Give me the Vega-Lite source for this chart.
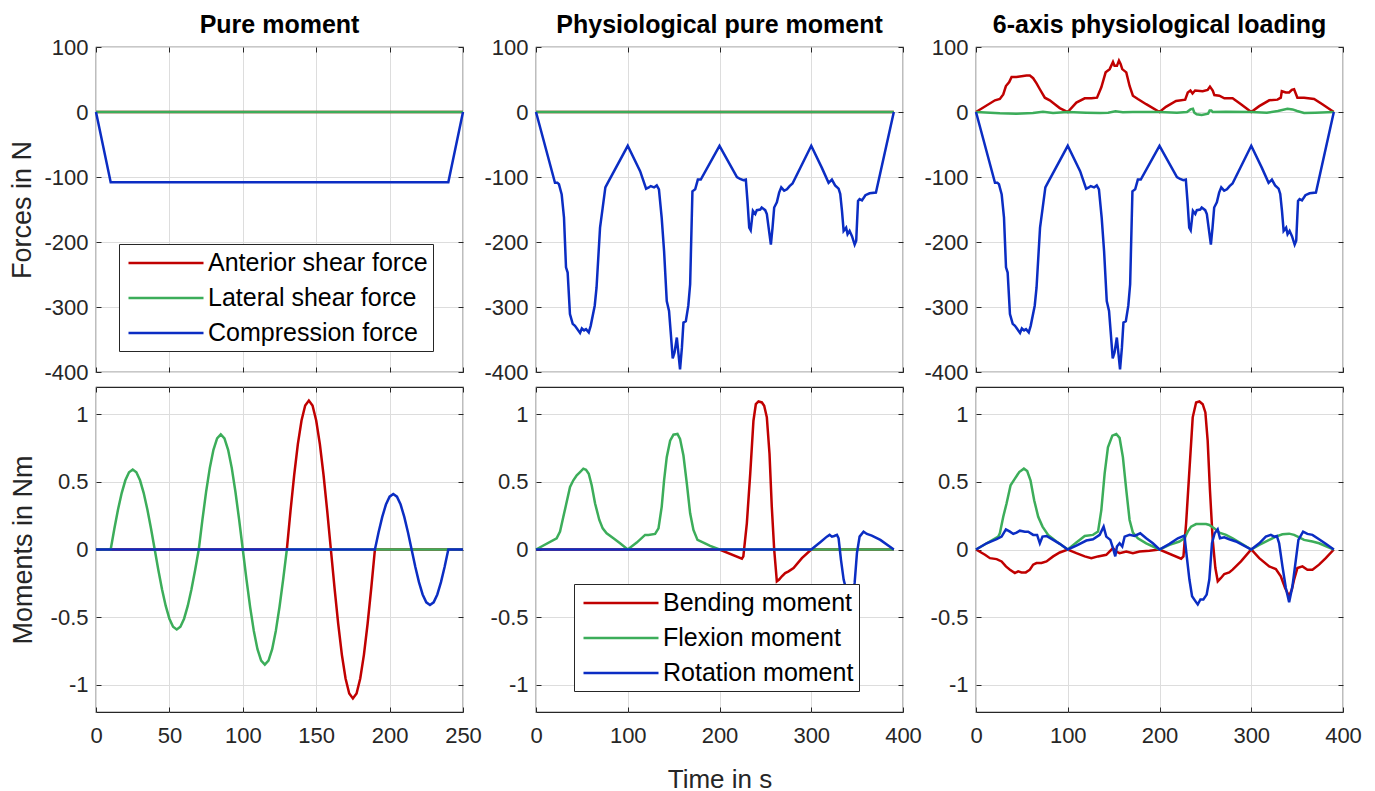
{
  "$schema": "https://vega.github.io/schema/vega-lite/v6.json",
  "background": "white",
  "padding": {"left": 8, "top": 12, "right": 5, "bottom": 0},
  "bounds": "flush",
  "columns": 3,
  "spacing": {"row": 15, "column": 73},
  "resolve": {"scale": {"color": "independent"}, "legend": {"color": "independent"}},
  "config": {
    "font": "Liberation Sans",
    "view": {"stroke": "#262626", "strokeWidth": 1.2},
    "axis": {"domain": false, "ticks": true, "tickSize": -5, "tickColor": "#262626", "gridColor": "#DDDDDD", "gridWidth": 1, "labelFont": "Liberation Sans", "labelFontSize": 22, "labelColor": "#262626", "labelFlush": false, "titleFont": "Liberation Sans", "titleFontSize": 27, "titleFontWeight": "normal", "titleColor": "#262626", "labelPadding": 13},
    "axisX": {"labelPadding": 18, "titlePadding": 20, "titleFontSize": 26},
    "title": {"fontSize": 25, "fontWeight": "bold", "font": "Liberation Sans", "color": "black", "offset": -2, "frame": "group"}
  },
  "datasets": {
    "z250": [{"t":0,"v":0},{"t":250,"v":0}],
    "z390": [{"t":0,"v":0},{"t":390,"v":0}],
    "pm_comp": [{"t":0,"v":0},{"t":10,"v":-108},{"t":240,"v":-108},{"t":250,"v":0}],
    "comp": [{"t":0,"v":0},{"t":20.7,"v":-109},{"t":23.3,"v":-109},{"t":25,"v":-111},{"t":28,"v":-127},{"t":30.5,"v":-162},{"t":32.7,"v":-239},{"t":34.5,"v":-247},{"t":37,"v":-311},{"t":40,"v":-326},{"t":42.5,"v":-329},{"t":48,"v":-340},{"t":50,"v":-333},{"t":52.4,"v":-336},{"t":54.5,"v":-334},{"t":57.5,"v":-339},{"t":59.6,"v":-329},{"t":64,"v":-298},{"t":66,"v":-270},{"t":69.8,"v":-178},{"t":72.7,"v":-147},{"t":75.6,"v":-116},{"t":78.2,"v":-109},{"t":100,"v":-52},{"t":113.5,"v":-91},{"t":120,"v":-118},{"t":123,"v":-116},{"t":125,"v":-114},{"t":128.7,"v":-116},{"t":131.6,"v":-113},{"t":134,"v":-119},{"t":137,"v":-163},{"t":139.6,"v":-214},{"t":142.5,"v":-291},{"t":145,"v":-306},{"t":147,"v":-342},{"t":149,"v":-379},{"t":151,"v":-370},{"t":153.5,"v":-347},{"t":157,"v":-396},{"t":159,"v":-363},{"t":160.7,"v":-324},{"t":163.3,"v":-322},{"t":166,"v":-298},{"t":168,"v":-265},{"t":170.5,"v":-122},{"t":173.5,"v":-119},{"t":176.4,"v":-104},{"t":179.6,"v":-104},{"t":200,"v":-52},{"t":219,"v":-100},{"t":222.5,"v":-103},{"t":226,"v":-105},{"t":228.7,"v":-104},{"t":230.5,"v":-137},{"t":232.4,"v":-178},{"t":234,"v":-182},{"t":236.4,"v":-152},{"t":239,"v":-157},{"t":240.7,"v":-151},{"t":244.4,"v":-150},{"t":246,"v":-147},{"t":249.8,"v":-151},{"t":251.6,"v":-157},{"t":254,"v":-183},{"t":256,"v":-204},{"t":257.8,"v":-178},{"t":259.6,"v":-147},{"t":262.5,"v":-139},{"t":265,"v":-124},{"t":267.3,"v":-116},{"t":270.5,"v":-121},{"t":273.5,"v":-119},{"t":276.4,"v":-114},{"t":279.6,"v":-110},{"t":300,"v":-52},{"t":311.6,"v":-86},{"t":318.9,"v":-109},{"t":322.5,"v":-104},{"t":326,"v":-113},{"t":329.8,"v":-118},{"t":331.6,"v":-126},{"t":333.5,"v":-152},{"t":335.3,"v":-183},{"t":338,"v":-178},{"t":339.6,"v":-188},{"t":341.8,"v":-183},{"t":344.4,"v":-191},{"t":347.3,"v":-204},{"t":349,"v":-198},{"t":351,"v":-137},{"t":352.7,"v":-134},{"t":355.3,"v":-136},{"t":359,"v":-128},{"t":363.6,"v":-125},{"t":370.5,"v":-124},{"t":390,"v":0}],
    "six_ant": [{"t":0,"v":0},{"t":20.7,"v":18},{"t":26,"v":20},{"t":29.7,"v":27},{"t":32.6,"v":40},{"t":36.2,"v":46},{"t":38.8,"v":54},{"t":44,"v":54},{"t":49.6,"v":55},{"t":55,"v":56},{"t":58.7,"v":56},{"t":62.3,"v":52},{"t":66,"v":44},{"t":69.6,"v":35},{"t":75,"v":22},{"t":80.4,"v":18},{"t":85.9,"v":12},{"t":91.3,"v":6},{"t":100,"v":0},{"t":109.4,"v":14.5},{"t":118.5,"v":21},{"t":125.7,"v":21},{"t":131.9,"v":22},{"t":136.6,"v":38},{"t":141.3,"v":61},{"t":145.7,"v":66},{"t":149.3,"v":77},{"t":151,"v":71},{"t":153.6,"v":71},{"t":155.8,"v":79},{"t":157.6,"v":74},{"t":159.4,"v":66},{"t":163.8,"v":61},{"t":167.4,"v":40},{"t":171,"v":25},{"t":176.4,"v":20},{"t":185.5,"v":12},{"t":200,"v":0},{"t":207,"v":8},{"t":218,"v":17},{"t":228,"v":19},{"t":230.8,"v":30},{"t":233.7,"v":33},{"t":236,"v":28.5},{"t":238.8,"v":33},{"t":247,"v":32},{"t":252.5,"v":34},{"t":255,"v":39},{"t":258,"v":33},{"t":259.8,"v":26},{"t":265.2,"v":25},{"t":270.7,"v":21},{"t":279.7,"v":21},{"t":288.8,"v":12},{"t":300,"v":0},{"t":308.7,"v":9},{"t":319.6,"v":18},{"t":328.6,"v":19},{"t":332.2,"v":22},{"t":333.3,"v":32},{"t":337.7,"v":30},{"t":341.3,"v":30},{"t":344.2,"v":34},{"t":346.7,"v":35},{"t":350.3,"v":22},{"t":357.6,"v":22},{"t":368.5,"v":20},{"t":377.5,"v":12},{"t":390,"v":0}],
    "six_lat": [{"t":0,"v":0},{"t":26,"v":-2},{"t":44,"v":-2.5},{"t":62,"v":-1.5},{"t":73,"v":0.5},{"t":84,"v":-1.5},{"t":100,"v":0},{"t":120,"v":-1},{"t":135,"v":-1.5},{"t":144,"v":-1},{"t":152,"v":1},{"t":160,"v":-0.5},{"t":171,"v":0},{"t":200,"v":0},{"t":219,"v":-1},{"t":230,"v":0},{"t":233.7,"v":4},{"t":236.4,"v":5},{"t":238,"v":-1},{"t":240.5,"v":-3.5},{"t":246,"v":-4.5},{"t":253,"v":-2.5},{"t":254.7,"v":2.5},{"t":256.5,"v":2.5},{"t":258,"v":0},{"t":272.5,"v":0.5},{"t":300,"v":0},{"t":317,"v":-1},{"t":329,"v":1.5},{"t":339.5,"v":5},{"t":345,"v":4},{"t":350,"v":1.5},{"t":357.6,"v":-1.5},{"t":370,"v":-1},{"t":390,"v":0}],
    "pm_bend": [{"t":0,"v":0},{"t":130,"v":0},{"t":132.5,"v":0.285},{"t":135,"v":0.55},{"t":137.5,"v":0.778},{"t":140,"v":0.953},{"t":142.5,"v":1.063},{"t":145,"v":1.1},{"t":147.5,"v":1.063},{"t":150,"v":0.953},{"t":152.5,"v":0.778},{"t":155,"v":0.55},{"t":157.5,"v":0.285},{"t":160,"v":0},{"t":162.5,"v":-0.285},{"t":165,"v":-0.55},{"t":167.5,"v":-0.778},{"t":170,"v":-0.953},{"t":172.5,"v":-1.063},{"t":175,"v":-1.1},{"t":177.5,"v":-1.063},{"t":180,"v":-0.953},{"t":182.5,"v":-0.778},{"t":185,"v":-0.55},{"t":187.5,"v":-0.285},{"t":190,"v":0},{"t":250,"v":0}],
    "pm_flex": [{"t":0,"v":0},{"t":10,"v":0},{"t":12.5,"v":0.153},{"t":15,"v":0.295},{"t":17.5,"v":0.417},{"t":20,"v":0.511},{"t":22.5,"v":0.57},{"t":25,"v":0.59},{"t":27.5,"v":0.57},{"t":30,"v":0.511},{"t":32.5,"v":0.417},{"t":35,"v":0.295},{"t":37.5,"v":0.153},{"t":40,"v":0},{"t":42.5,"v":-0.153},{"t":45,"v":-0.295},{"t":47.5,"v":-0.417},{"t":50,"v":-0.511},{"t":52.5,"v":-0.57},{"t":55,"v":-0.59},{"t":57.5,"v":-0.57},{"t":60,"v":-0.511},{"t":62.5,"v":-0.417},{"t":65,"v":-0.295},{"t":67.5,"v":-0.153},{"t":70,"v":0},{"t":72.5,"v":0.22},{"t":75,"v":0.425},{"t":77.5,"v":0.601},{"t":80,"v":0.736},{"t":82.5,"v":0.821},{"t":85,"v":0.85},{"t":87.5,"v":0.821},{"t":90,"v":0.736},{"t":92.5,"v":0.601},{"t":95,"v":0.425},{"t":97.5,"v":0.22},{"t":100,"v":0},{"t":102.5,"v":-0.22},{"t":105,"v":-0.425},{"t":107.5,"v":-0.601},{"t":110,"v":-0.736},{"t":112.5,"v":-0.821},{"t":115,"v":-0.85},{"t":117.5,"v":-0.821},{"t":120,"v":-0.736},{"t":122.5,"v":-0.601},{"t":125,"v":-0.425},{"t":127.5,"v":-0.22},{"t":130,"v":0},{"t":250,"v":0}],
    "pm_rot": [{"t":0,"v":0},{"t":190,"v":0},{"t":192.5,"v":0.127},{"t":195,"v":0.241},{"t":197.5,"v":0.332},{"t":200,"v":0.39},{"t":202.5,"v":0.41},{"t":205,"v":0.39},{"t":207.5,"v":0.332},{"t":210,"v":0.241},{"t":212.5,"v":0.127},{"t":215,"v":0},{"t":217.5,"v":-0.127},{"t":220,"v":-0.241},{"t":222.5,"v":-0.332},{"t":225,"v":-0.39},{"t":227.5,"v":-0.41},{"t":230,"v":-0.39},{"t":232.5,"v":-0.332},{"t":235,"v":-0.241},{"t":237.5,"v":-0.127},{"t":240,"v":0},{"t":250,"v":0}],
    "ppm_bend": [{"t":0,"v":0},{"t":200,"v":0},{"t":224.4,"v":-0.068},{"t":226,"v":-0.05},{"t":229.8,"v":0.193},{"t":233.5,"v":0.56},{"t":237,"v":0.951},{"t":239.6,"v":1.073},{"t":242.5,"v":1.093},{"t":246.2,"v":1.086},{"t":248.7,"v":1.061},{"t":251.6,"v":0.976},{"t":254.5,"v":0.707},{"t":257,"v":0.315},{"t":259.6,"v":0},{"t":262.5,"v":-0.235},{"t":265,"v":-0.222},{"t":268,"v":-0.198},{"t":271.6,"v":-0.174},{"t":275.3,"v":-0.161},{"t":280.7,"v":-0.137},{"t":289.8,"v":-0.064},{"t":300,"v":0},{"t":390,"v":0}],
    "ppm_flex": [{"t":0,"v":0},{"t":22.5,"v":0.083},{"t":26.2,"v":0.132},{"t":29.8,"v":0.242},{"t":32.7,"v":0.328},{"t":37.1,"v":0.462},{"t":40.7,"v":0.511},{"t":44.4,"v":0.548},{"t":48,"v":0.572},{"t":51.6,"v":0.597},{"t":54.5,"v":0.589},{"t":57.5,"v":0.56},{"t":60.7,"v":0.474},{"t":64.4,"v":0.34},{"t":69,"v":0.218},{"t":72.7,"v":0.156},{"t":77,"v":0.12},{"t":84.4,"v":0.083},{"t":91.6,"v":0.046},{"t":100,"v":0},{"t":109.8,"v":0.051},{"t":118.9,"v":0.108},{"t":122.5,"v":0.108},{"t":129.8,"v":0.115},{"t":133.5,"v":0.156},{"t":137,"v":0.315},{"t":139.6,"v":0.511},{"t":142.5,"v":0.682},{"t":146.2,"v":0.804},{"t":149.8,"v":0.848},{"t":154.2,"v":0.853},{"t":157,"v":0.817},{"t":160.7,"v":0.694},{"t":164.4,"v":0.487},{"t":168,"v":0.267},{"t":171.6,"v":0.144},{"t":176,"v":0.071},{"t":182.5,"v":0.051},{"t":189.8,"v":0.027},{"t":200,"v":0},{"t":390,"v":0}],
    "ppm_rot": [{"t":0,"v":0},{"t":300,"v":0},{"t":309.8,"v":0.054},{"t":317,"v":0.095},{"t":320,"v":0.108},{"t":322.5,"v":0.095},{"t":325,"v":0.1},{"t":328,"v":0.108},{"t":329.8,"v":0.083},{"t":332.4,"v":-0.076},{"t":335.3,"v":-0.222},{"t":339,"v":-0.32},{"t":342.5,"v":-0.39},{"t":345.5,"v":-0.32},{"t":347.3,"v":-0.247},{"t":349.8,"v":-0.027},{"t":352.7,"v":0.095},{"t":357,"v":0.132},{"t":360.7,"v":0.115},{"t":366,"v":0.103},{"t":375.3,"v":0.071},{"t":390,"v":0}],
    "six_bend": [{"t":0,"v":0},{"t":9.8,"v":-0.039},{"t":15.2,"v":-0.064},{"t":22.5,"v":-0.071},{"t":27.9,"v":-0.088},{"t":32.6,"v":-0.125},{"t":37,"v":-0.149},{"t":42.4,"v":-0.174},{"t":46,"v":-0.161},{"t":49.6,"v":-0.169},{"t":54.3,"v":-0.169},{"t":58.7,"v":-0.149},{"t":62.3,"v":-0.112},{"t":65.9,"v":-0.1},{"t":71.4,"v":-0.1},{"t":76.8,"v":-0.088},{"t":84.1,"v":-0.051},{"t":91.3,"v":-0.022},{"t":100,"v":0},{"t":109.4,"v":-0.027},{"t":118.5,"v":-0.051},{"t":125.7,"v":-0.064},{"t":133,"v":-0.051},{"t":142,"v":-0.039},{"t":149.3,"v":0.01},{"t":152.9,"v":-0.015},{"t":156.5,"v":-0.027},{"t":163.8,"v":-0.015},{"t":171,"v":-0.027},{"t":178.3,"v":-0.015},{"t":189.1,"v":-0.01},{"t":200,"v":0},{"t":223.6,"v":-0.068},{"t":226.1,"v":-0.051},{"t":229,"v":0.193},{"t":232.6,"v":0.584},{"t":236.2,"v":0.976},{"t":239.9,"v":1.086},{"t":243.5,"v":1.093},{"t":247.1,"v":1.073},{"t":250,"v":1.012},{"t":252.5,"v":0.804},{"t":255,"v":0.438},{"t":258,"v":0.071},{"t":260.9,"v":-0.137},{"t":263.5,"v":-0.235},{"t":267,"v":-0.21},{"t":270.6,"v":-0.181},{"t":276,"v":-0.169},{"t":279.7,"v":-0.149},{"t":288.8,"v":-0.088},{"t":300,"v":0},{"t":308.7,"v":-0.064},{"t":319.6,"v":-0.125},{"t":326.8,"v":-0.144},{"t":332.2,"v":-0.198},{"t":336.9,"v":-0.284},{"t":341.3,"v":-0.345},{"t":344.2,"v":-0.296},{"t":346.7,"v":-0.222},{"t":350.3,"v":-0.137},{"t":355.8,"v":-0.125},{"t":361.2,"v":-0.149},{"t":366.7,"v":-0.149},{"t":373.9,"v":-0.112},{"t":381.2,"v":-0.064},{"t":390,"v":0}],
    "six_flex": [{"t":0,"v":0},{"t":24.3,"v":0.095},{"t":26,"v":0.12},{"t":29.7,"v":0.242},{"t":33.3,"v":0.34},{"t":37.7,"v":0.474},{"t":42.4,"v":0.523},{"t":47.1,"v":0.572},{"t":52.2,"v":0.597},{"t":55.8,"v":0.579},{"t":59.4,"v":0.511},{"t":63.4,"v":0.364},{"t":67.8,"v":0.242},{"t":72.5,"v":0.169},{"t":78.6,"v":0.108},{"t":87.7,"v":0.059},{"t":100,"v":0},{"t":109.4,"v":0.051},{"t":118.5,"v":0.1},{"t":127.5,"v":0.108},{"t":133,"v":0.132},{"t":136.6,"v":0.291},{"t":140.2,"v":0.56},{"t":143.8,"v":0.755},{"t":148.6,"v":0.841},{"t":152.9,"v":0.853},{"t":156.5,"v":0.824},{"t":160.1,"v":0.682},{"t":163.8,"v":0.438},{"t":167.4,"v":0.218},{"t":171,"v":0.125},{"t":176.4,"v":0.083},{"t":185.5,"v":0.046},{"t":200,"v":0},{"t":210.9,"v":0.034},{"t":221.7,"v":0.059},{"t":227.2,"v":0.083},{"t":230.8,"v":0.132},{"t":234.4,"v":0.169},{"t":239.9,"v":0.188},{"t":245.3,"v":0.188},{"t":250.7,"v":0.188},{"t":254.3,"v":0.181},{"t":259.8,"v":0.156},{"t":265.2,"v":0.125},{"t":272.5,"v":0.108},{"t":279.7,"v":0.083},{"t":288.8,"v":0.046},{"t":300,"v":0},{"t":308.7,"v":0.034},{"t":319.6,"v":0.071},{"t":326.8,"v":0.095},{"t":334,"v":0.112},{"t":341.3,"v":0.117},{"t":346.7,"v":0.108},{"t":352.2,"v":0.09},{"t":357.6,"v":0.071},{"t":366.7,"v":0.059},{"t":373.9,"v":0.046},{"t":390,"v":0}],
    "six_rot": [{"t":0,"v":0},{"t":11.6,"v":0.046},{"t":22.5,"v":0.076},{"t":27.9,"v":0.095},{"t":32.6,"v":0.149},{"t":37,"v":0.132},{"t":40.6,"v":0.115},{"t":44.2,"v":0.125},{"t":47.8,"v":0.139},{"t":53.3,"v":0.132},{"t":56.9,"v":0.132},{"t":62.3,"v":0.108},{"t":66.6,"v":0.108},{"t":69.6,"v":0.046},{"t":72.5,"v":0.095},{"t":76.8,"v":0.1},{"t":84.1,"v":0.071},{"t":91.3,"v":0.042},{"t":100,"v":0},{"t":109.4,"v":0.029},{"t":120.3,"v":0.066},{"t":127.5,"v":0.076},{"t":134.8,"v":0.108},{"t":139.1,"v":0.169},{"t":142,"v":0.095},{"t":146.4,"v":0.071},{"t":149.3,"v":0.01},{"t":151.8,"v":-0.051},{"t":153.6,"v":0.022},{"t":156.5,"v":0.046},{"t":159.4,"v":0.022},{"t":162,"v":0.095},{"t":167.4,"v":0.108},{"t":172.8,"v":0.1},{"t":179,"v":0.12},{"t":185.5,"v":0.083},{"t":192.8,"v":0.046},{"t":200,"v":0},{"t":210.9,"v":0.042},{"t":220,"v":0.083},{"t":227.2,"v":0.103},{"t":229.7,"v":-0.051},{"t":232.6,"v":-0.222},{"t":235.5,"v":-0.345},{"t":239.1,"v":-0.381},{"t":241.7,"v":-0.406},{"t":244.6,"v":-0.369},{"t":247.8,"v":-0.369},{"t":251.4,"v":-0.333},{"t":254.3,"v":-0.222},{"t":257.2,"v":0.046},{"t":260.1,"v":0.12},{"t":263.4,"v":0.149},{"t":265.9,"v":0.083},{"t":270.6,"v":0.09},{"t":276,"v":0.076},{"t":283.3,"v":0.059},{"t":290.5,"v":0.034},{"t":300,"v":0},{"t":308.7,"v":0.046},{"t":315.9,"v":0.095},{"t":321.4,"v":0.108},{"t":325,"v":0.095},{"t":327.9,"v":0.1},{"t":330.4,"v":0.046},{"t":334,"v":-0.125},{"t":337.7,"v":-0.284},{"t":341.3,"v":-0.389},{"t":344.9,"v":-0.272},{"t":348.6,"v":-0.076},{"t":351.4,"v":0.071},{"t":356.5,"v":0.132},{"t":361.2,"v":0.115},{"t":366.7,"v":0.108},{"t":373.9,"v":0.076},{"t":381.2,"v":0.042},{"t":390,"v":0}]
  },
  "concat": [
    {
      "width": 367, "height": 325,
      "title": "Pure moment",
      "resolve": {"axis": {"x": "independent", "y": "independent"}},
      "encoding": {
        "x": {"field": "t", "type": "quantitative", "scale": {"domain": [0, 250], "nice": false, "zero": false}, "axis": {"values": [0, 50, 100, 150, 200, 250], "labels": false, "title": null}},
        "y": {"field": "v", "type": "quantitative", "scale": {"domain": [-400, 100], "nice": false}, "axis": {"values": [-400, -300, -200, -100, 0, 100], "title": "Forces in N", "titlePadding": 7, "labelExpr": "'' + datum.value"}}
      },
      "layer": [
        {"layer": [
          {"data": {"name": "z250"}, "mark": {"type": "line", "strokeWidth": 2.5}, "encoding": {"color": {"datum": "Anterior shear force", "type": "nominal", "scale": {"domain": ["Anterior shear force", "Lateral shear force", "Compression force"], "range": ["#C00000", "#3CAD5A", "#0B2DC3"]}, "legend": {"orient": "none", "legendX": 23, "legendY": 197, "title": null, "symbolType": "M-3,0H3", "symbolSize": 625, "symbolStrokeWidth": 2.5, "labelFontSize": 25, "labelFont": "Liberation Sans", "labelColor": "black", "rowPadding": 8, "padding": 5, "strokeColor": "#262626", "fillColor": "white", "symbolOffset": 28, "labelOffset": 28, "labelLimit": 400}}}},
          {"data": {"name": "z250"}, "mark": {"type": "line", "strokeWidth": 2.5}, "encoding": {"color": {"datum": "Lateral shear force", "type": "nominal"}}},
          {"data": {"name": "pm_comp"}, "mark": {"type": "line", "strokeWidth": 2.5}, "encoding": {"color": {"datum": "Compression force", "type": "nominal"}}}
        ]},
        {"data": {"name": "z250"}, "mark": {"type": "line", "opacity": 0}, "encoding": {
          "x": {"field": "t", "type": "quantitative", "scale": {"domain": [0, 250], "nice": false, "zero": false}, "axis": {"orient": "top", "values": [0, 50, 100, 150, 200, 250], "labels": false, "grid": false, "title": null}},
          "y": {"field": "v", "type": "quantitative", "scale": {"domain": [-400, 100], "nice": false}, "axis": {"orient": "right", "values": [-400, -300, -200, -100, 0, 100], "labels": false, "grid": false, "title": null}}
        }}
      ]
    },
    {
      "width": 367, "height": 325,
      "title": "Physiological pure moment",
      "resolve": {"axis": {"x": "independent", "y": "independent"}},
      "encoding": {
        "x": {"field": "t", "type": "quantitative", "scale": {"domain": [0, 400], "nice": false, "zero": false}, "axis": {"values": [0, 100, 200, 300, 400], "labels": false, "title": null}},
        "y": {"field": "v", "type": "quantitative", "scale": {"domain": [-400, 100], "nice": false}, "axis": {"values": [-400, -300, -200, -100, 0, 100], "title": null, "labelExpr": "'' + datum.value"}}
      },
      "layer": [
        {"layer": [
          {"data": {"name": "z390"}, "mark": {"type": "line", "strokeWidth": 2.5}, "encoding": {"color": {"datum": "Anterior shear force", "type": "nominal", "scale": {"domain": ["Anterior shear force", "Lateral shear force", "Compression force"], "range": ["#C00000", "#3CAD5A", "#0B2DC3"]}, "legend": null}}},
          {"data": {"name": "z390"}, "mark": {"type": "line", "strokeWidth": 2.5}, "encoding": {"color": {"datum": "Lateral shear force", "type": "nominal", "legend": null}}},
          {"data": {"name": "comp"}, "mark": {"type": "line", "strokeWidth": 2.5}, "encoding": {"color": {"datum": "Compression force", "type": "nominal", "legend": null}}}
        ]},
        {"data": {"name": "z390"}, "mark": {"type": "line", "opacity": 0}, "encoding": {
          "x": {"field": "t", "type": "quantitative", "scale": {"domain": [0, 400], "nice": false, "zero": false}, "axis": {"orient": "top", "values": [0, 100, 200, 300, 400], "labels": false, "grid": false, "title": null}},
          "y": {"field": "v", "type": "quantitative", "scale": {"domain": [-400, 100], "nice": false}, "axis": {"orient": "right", "values": [-400, -300, -200, -100, 0, 100], "labels": false, "grid": false, "title": null}}
        }}
      ]
    },
    {
      "width": 367, "height": 325,
      "title": "6-axis physiological loading",
      "resolve": {"axis": {"x": "independent", "y": "independent"}},
      "encoding": {
        "x": {"field": "t", "type": "quantitative", "scale": {"domain": [0, 400], "nice": false, "zero": false}, "axis": {"values": [0, 100, 200, 300, 400], "labels": false, "title": null}},
        "y": {"field": "v", "type": "quantitative", "scale": {"domain": [-400, 100], "nice": false}, "axis": {"values": [-400, -300, -200, -100, 0, 100], "title": null, "labelExpr": "'' + datum.value"}}
      },
      "layer": [
        {"layer": [
          {"data": {"name": "six_ant"}, "mark": {"type": "line", "strokeWidth": 2.5}, "encoding": {"color": {"datum": "Anterior shear force", "type": "nominal", "scale": {"domain": ["Anterior shear force", "Lateral shear force", "Compression force"], "range": ["#C00000", "#3CAD5A", "#0B2DC3"]}, "legend": null}}},
          {"data": {"name": "six_lat"}, "mark": {"type": "line", "strokeWidth": 2.5}, "encoding": {"color": {"datum": "Lateral shear force", "type": "nominal", "legend": null}}},
          {"data": {"name": "comp"}, "mark": {"type": "line", "strokeWidth": 2.5}, "encoding": {"color": {"datum": "Compression force", "type": "nominal", "legend": null}}}
        ]},
        {"data": {"name": "z390"}, "mark": {"type": "line", "opacity": 0}, "encoding": {
          "x": {"field": "t", "type": "quantitative", "scale": {"domain": [0, 400], "nice": false, "zero": false}, "axis": {"orient": "top", "values": [0, 100, 200, 300, 400], "labels": false, "grid": false, "title": null}},
          "y": {"field": "v", "type": "quantitative", "scale": {"domain": [-400, 100], "nice": false}, "axis": {"orient": "right", "values": [-400, -300, -200, -100, 0, 100], "labels": false, "grid": false, "title": null}}
        }}
      ]
    },
    {
      "width": 367, "height": 325,
      "resolve": {"axis": {"x": "independent", "y": "independent"}},
      "encoding": {
        "x": {"field": "t", "type": "quantitative", "scale": {"domain": [0, 250], "nice": false, "zero": false}, "axis": {"values": [0, 50, 100, 150, 200, 250], "title": null}},
        "y": {"field": "v", "type": "quantitative", "scale": {"domain": [-1.2, 1.2], "nice": false}, "axis": {"values": [-1, -0.5, 0, 0.5, 1], "title": "Moments in Nm", "titlePadding": 13, "labelExpr": "'' + datum.value"}}
      },
      "layer": [
        {"layer": [
          {"data": {"name": "pm_bend"}, "mark": {"type": "line", "strokeWidth": 2.5}, "encoding": {"color": {"datum": "Bending moment", "type": "nominal", "scale": {"domain": ["Bending moment", "Flexion moment", "Rotation moment"], "range": ["#C00000", "#3CAD5A", "#0B2DC3"]}, "legend": null}}},
          {"data": {"name": "pm_flex"}, "mark": {"type": "line", "strokeWidth": 2.5}, "encoding": {"color": {"datum": "Flexion moment", "type": "nominal", "legend": null}}},
          {"data": {"name": "pm_rot"}, "mark": {"type": "line", "strokeWidth": 2.5}, "encoding": {"color": {"datum": "Rotation moment", "type": "nominal", "legend": null}}}
        ]},
        {"data": {"name": "z250"}, "mark": {"type": "line", "opacity": 0}, "encoding": {
          "x": {"field": "t", "type": "quantitative", "scale": {"domain": [0, 250], "nice": false, "zero": false}, "axis": {"orient": "top", "values": [0, 50, 100, 150, 200, 250], "labels": false, "grid": false, "title": null}},
          "y": {"field": "v", "type": "quantitative", "scale": {"domain": [-1.2, 1.2], "nice": false}, "axis": {"orient": "right", "values": [-1, -0.5, 0, 0.5, 1], "labels": false, "grid": false, "title": null}}
        }}
      ]
    },
    {
      "width": 367, "height": 325,
      "resolve": {"axis": {"x": "independent", "y": "independent"}},
      "encoding": {
        "x": {"field": "t", "type": "quantitative", "scale": {"domain": [0, 400], "nice": false, "zero": false}, "axis": {"values": [0, 100, 200, 300, 400], "title": "Time in s"}},
        "y": {"field": "v", "type": "quantitative", "scale": {"domain": [-1.2, 1.2], "nice": false}, "axis": {"values": [-1, -0.5, 0, 0.5, 1], "title": null, "labelExpr": "'' + datum.value"}}
      },
      "layer": [
        {"layer": [
          {"data": {"name": "ppm_bend"}, "mark": {"type": "line", "strokeWidth": 2.5}, "encoding": {"color": {"datum": "Bending moment", "type": "nominal", "scale": {"domain": ["Bending moment", "Flexion moment", "Rotation moment"], "range": ["#C00000", "#3CAD5A", "#0B2DC3"]}, "legend": {"orient": "none", "legendX": 38, "legendY": 197, "title": null, "symbolType": "M-3,0H3", "symbolSize": 625, "symbolStrokeWidth": 2.5, "labelFontSize": 25, "labelFont": "Liberation Sans", "labelColor": "black", "rowPadding": 8, "padding": 5, "strokeColor": "#262626", "fillColor": "white", "symbolOffset": 28, "labelOffset": 28, "labelLimit": 400}}}},
          {"data": {"name": "ppm_flex"}, "mark": {"type": "line", "strokeWidth": 2.5}, "encoding": {"color": {"datum": "Flexion moment", "type": "nominal"}}},
          {"data": {"name": "ppm_rot"}, "mark": {"type": "line", "strokeWidth": 2.5}, "encoding": {"color": {"datum": "Rotation moment", "type": "nominal"}}}
        ]},
        {"data": {"name": "z390"}, "mark": {"type": "line", "opacity": 0}, "encoding": {
          "x": {"field": "t", "type": "quantitative", "scale": {"domain": [0, 400], "nice": false, "zero": false}, "axis": {"orient": "top", "values": [0, 100, 200, 300, 400], "labels": false, "grid": false, "title": null}},
          "y": {"field": "v", "type": "quantitative", "scale": {"domain": [-1.2, 1.2], "nice": false}, "axis": {"orient": "right", "values": [-1, -0.5, 0, 0.5, 1], "labels": false, "grid": false, "title": null}}
        }}
      ]
    },
    {
      "width": 367, "height": 325,
      "resolve": {"axis": {"x": "independent", "y": "independent"}},
      "encoding": {
        "x": {"field": "t", "type": "quantitative", "scale": {"domain": [0, 400], "nice": false, "zero": false}, "axis": {"values": [0, 100, 200, 300, 400], "title": null}},
        "y": {"field": "v", "type": "quantitative", "scale": {"domain": [-1.2, 1.2], "nice": false}, "axis": {"values": [-1, -0.5, 0, 0.5, 1], "title": null, "labelExpr": "'' + datum.value"}}
      },
      "layer": [
        {"layer": [
          {"data": {"name": "six_bend"}, "mark": {"type": "line", "strokeWidth": 2.5}, "encoding": {"color": {"datum": "Bending moment", "type": "nominal", "scale": {"domain": ["Bending moment", "Flexion moment", "Rotation moment"], "range": ["#C00000", "#3CAD5A", "#0B2DC3"]}, "legend": null}}},
          {"data": {"name": "six_flex"}, "mark": {"type": "line", "strokeWidth": 2.5}, "encoding": {"color": {"datum": "Flexion moment", "type": "nominal", "legend": null}}},
          {"data": {"name": "six_rot"}, "mark": {"type": "line", "strokeWidth": 2.5}, "encoding": {"color": {"datum": "Rotation moment", "type": "nominal", "legend": null}}}
        ]},
        {"data": {"name": "z390"}, "mark": {"type": "line", "opacity": 0}, "encoding": {
          "x": {"field": "t", "type": "quantitative", "scale": {"domain": [0, 400], "nice": false, "zero": false}, "axis": {"orient": "top", "values": [0, 100, 200, 300, 400], "labels": false, "grid": false, "title": null}},
          "y": {"field": "v", "type": "quantitative", "scale": {"domain": [-1.2, 1.2], "nice": false}, "axis": {"orient": "right", "values": [-1, -0.5, 0, 0.5, 1], "labels": false, "grid": false, "title": null}}
        }}
      ]
    }
  ]
}
